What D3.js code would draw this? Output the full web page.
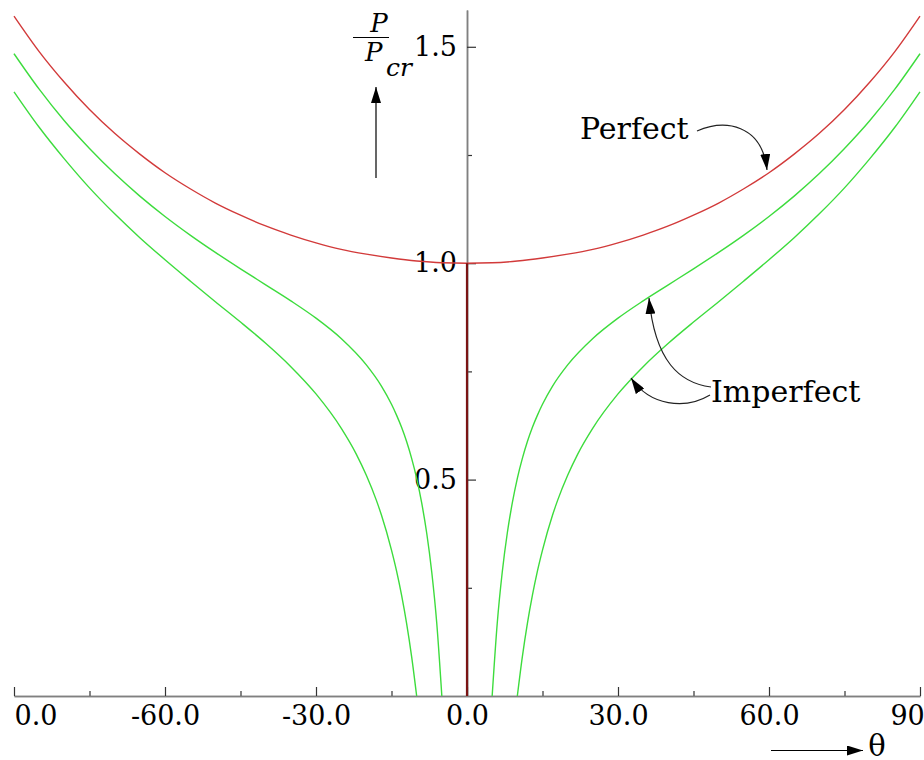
<!DOCTYPE html>
<html>
<head>
<meta charset="utf-8">
<script src="https://cdn.jsdelivr.net/npm/d3@7"></script>
<style>
  html, body { margin: 0; padding: 0; background: #fff; }
  svg { display: block; }
</style>
</head>
<body>
<svg id="chart" width="924" height="760"></svg>
<script>
// ---------- DATA ----------
const xMajorTicks = [-90, -60, -30, 0, 30, 60, 90];
const xTickLabels = ["0.0", "-60.0", "-30.0", "0.0", "30.0", "60.0", "90.0"];
const xMinorTicks = [-75, -45, -15, 15, 45, 75];
const yMajorTicks = [0.5, 1.0, 1.5];
const yTickLabels = ["0.5", "1.0", "1.5"];
const yMinorTicks = [0.25, 0.75, 1.25];

// Perfect column: post-buckling branch
const perfectTheta = [-90,-85,-80,-75,-70,-65,-60,-55,-50,-45,-40,-35,-30,-25,-20,-15,-10,-5,0,
                      5,10,15,20,25,30,35,40,45,50,55,60,65,70,75,80,85,90];
const perfectP = [1.571,1.489,1.418,1.355,1.300,1.252,1.209,1.172,1.139,1.111,1.086,1.065,1.047,1.032,1.021,1.012,1.005,1.001,1.000,
                  1.001,1.005,1.012,1.021,1.032,1.047,1.065,1.086,1.111,1.139,1.172,1.209,1.252,1.300,1.355,1.418,1.489,1.571];
// Perfect column: trivial (straight) path
const trivialTheta = [0, 0];
const trivialP = [0, 1.0];

// Imperfect columns (right side)
const imp5Theta = [5,6,7,8,9,10,11,12,13,14,15,17,20,25,30,35,40,45,50,55,60,65,70,75,80,85,90];
const imp5P     = [0,0.167,0.286,0.376,0.446,0.503,0.549,0.588,0.621,0.649,0.674,0.716,0.765,0.826,0.873,0.913,0.950,0.987,1.025,1.065,1.108,1.155,1.207,1.265,1.329,1.402,1.484];
const imp10Theta = [10,11,12,13,14,15,17,18,20,22,25,30,35,40,45,50,55,60,65,70,75,80,85,90];
const imp10P     = [0,0.091,0.168,0.233,0.289,0.337,0.418,0.452,0.510,0.559,0.619,0.698,0.761,0.815,0.864,0.911,0.959,1.008,1.059,1.114,1.174,1.241,1.314,1.396];
// Imperfect columns (left side)
const impM5Theta = [-90,-85,-80,-75,-70,-65,-60,-55,-50,-45,-40,-35,-30,-25,-20,-17,-15,-14,-13,-12,-11,-10,-9,-8,-7,-6,-5];
const impM5P     = [1.484,1.402,1.329,1.265,1.207,1.155,1.108,1.065,1.025,0.987,0.950,0.913,0.873,0.826,0.765,0.716,0.674,0.649,0.621,0.588,0.549,0.503,0.446,0.376,0.286,0.167,0];
const impM10Theta = [-90,-85,-80,-75,-70,-65,-60,-55,-50,-45,-40,-35,-30,-25,-22,-20,-18,-17,-15,-14,-13,-12,-11,-10];
const impM10P     = [1.396,1.314,1.241,1.174,1.114,1.059,1.008,0.959,0.911,0.864,0.815,0.761,0.698,0.619,0.559,0.510,0.452,0.418,0.337,0.289,0.233,0.168,0.091,0];

// ---------- CHART ----------
const svg = d3.select("#chart");
svg.append("rect").attr("width", 924).attr("height", 760).attr("fill", "#fff");

const x = d3.scaleLinear().domain([-90, 90]).range([14, 920]);
const y = d3.scaleLinear().domain([0, 1.585]).range([696, 10]);

const axisColor = "#808080";
const serif = "DejaVu Serif";

// defs: arrowhead
const defs = svg.append("defs");
defs.append("marker")
  .attr("id", "ah").attr("viewBox", "0 0 16 10")
  .attr("refX", 16).attr("refY", 5)
  .attr("markerWidth", 16).attr("markerHeight", 10)
  .attr("markerUnits", "userSpaceOnUse")
  .attr("orient", "auto")
  .append("path").attr("d", "M0,0 L16,5 L0,10 Z").attr("fill", "#000");

// X axis - minor ticks
const gxMinor = svg.append("g").attr("transform", `translate(0,${y(0)})`)
  .call(d3.axisBottom(x).tickValues(xMinorTicks).tickSizeInner(-5).tickSizeOuter(0).tickFormat(""));
// X axis - major ticks with labels
const gx = svg.append("g").attr("transform", `translate(0,${y(0)})`)
  .call(d3.axisBottom(x).tickValues(xMajorTicks).tickSizeInner(-9).tickSizeOuter(0).tickPadding(10)
    .tickFormat((d, i) => xTickLabels[i]));
gx.attr("font-family", serif);
gx.selectAll("text").attr("font-family", serif).attr("font-size", 27).attr("fill", "#000");
gx.selectAll(".tick").filter((d, i) => i === 0).select("text").attr("text-anchor", "start");

// Y axis - minor ticks
const gyMinor = svg.append("g").attr("transform", `translate(${x(0)},0)`)
  .call(d3.axisLeft(y).tickValues(yMinorTicks).tickSizeInner(-5).tickSizeOuter(0).tickFormat(""));
// Y axis - major
const gy = svg.append("g").attr("transform", `translate(${x(0)},0)`)
  .call(d3.axisLeft(y).tickValues(yMajorTicks).tickSizeInner(-9).tickSizeOuter(0).tickPadding(10)
    .tickFormat((d, i) => yTickLabels[i]));
gy.attr("font-family", serif);
gy.selectAll("text").attr("font-family", serif).attr("font-size", 27).attr("fill", "#000");

[gxMinor, gx, gyMinor, gy].forEach(g => {
  g.select(".domain").attr("stroke", axisColor).attr("stroke-width", 1.5);
  g.selectAll(".tick line").attr("stroke", "#333").attr("stroke-width", 1.2);
});

// Curves
const line = d3.line().x(d => x(d[0])).y(d => y(d[1])).curve(d3.curveMonotoneX);
const zip = (a, b) => a.map((v, i) => [v, b[i]]);

const greens = [[imp5Theta, imp5P], [imp10Theta, imp10P], [impM5Theta, impM5P], [impM10Theta, impM10P]];
greens.forEach(([t, p]) => {
  svg.append("path").attr("d", line(zip(t, p)))
    .attr("fill", "none").attr("stroke", "#3ddc3d").attr("stroke-width", 1.4);
});
svg.append("path").attr("d", line(zip(perfectTheta, perfectP)))
  .attr("fill", "none").attr("stroke", "#d23a3a").attr("stroke-width", 1.4);
svg.append("path").attr("d", d3.line().x(d => x(d[0])).y(d => y(d[1]))(zip(trivialTheta, trivialP)))
  .attr("fill", "none").attr("stroke", "#7a1414").attr("stroke-width", 2.2);

// Y axis label: P / P_cr
const yl = svg.append("g").attr("font-family", serif).attr("font-style", "italic").attr("fill", "#000");
yl.append("text").attr("x", 379).attr("y", 32).attr("text-anchor", "middle").attr("font-size", 26).text("P");
yl.append("line").attr("x1", 353).attr("x2", 389).attr("y1", 37.5).attr("y2", 37.5)
  .attr("stroke", "#000").attr("stroke-width", 1.2);
yl.append("text").attr("x", 365).attr("y", 61).attr("font-size", 26).text("P");
yl.append("text").attr("x", 386).attr("y", 76).attr("font-size", 25).text("cr");

// Up arrow near y label
svg.append("line").attr("x1", 376).attr("x2", 376).attr("y1", 178).attr("y2", 87)
  .attr("stroke", "#000").attr("stroke-width", 1.2).attr("marker-end", "url(#ah)");

// theta arrow
svg.append("line").attr("x1", 771).attr("x2", 863).attr("y1", 750.5).attr("y2", 750.5)
  .attr("stroke", "#000").attr("stroke-width", 1.2).attr("marker-end", "url(#ah)");
svg.append("text").attr("x", 877).attr("y", 756).attr("text-anchor", "middle")
  .attr("font-family", serif).attr("font-size", 29).attr("fill", "#000").text("θ");

// Annotations
svg.append("text").attr("x", 580).attr("y", 139).attr("font-family", serif).attr("font-size", 30)
  .attr("fill", "#000").text("Perfect");
svg.append("text").attr("x", 711).attr("y", 402).attr("font-family", serif).attr("font-size", 30)
  .attr("fill", "#000").text("Imperfect");

const ann = [
  "M697,131 C725,119 762,124 767,170",
  "M711,387 C680,383 655,362 649,298",
  "M710,395 C685,410 650,406 631,378"
];
ann.forEach(d => svg.append("path").attr("d", d).attr("fill", "none")
  .attr("stroke", "#222").attr("stroke-width", 1.2).attr("marker-end", "url(#ah)"));
</script>
</body>
</html>
